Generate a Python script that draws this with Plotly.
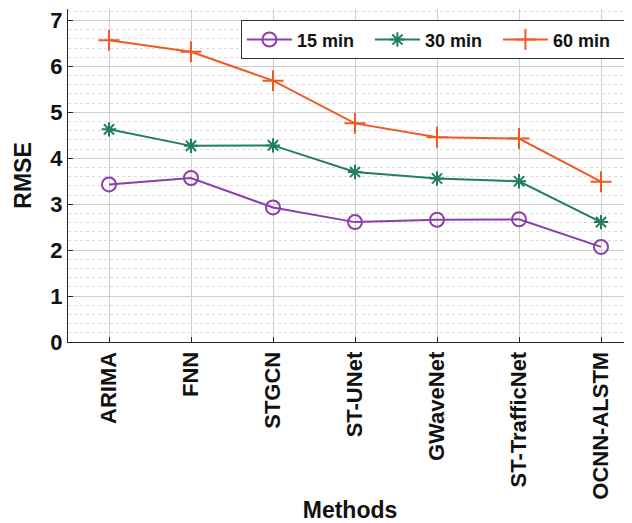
import plotly.graph_objects as go

methods = ["ARIMA", "FNN", "STGCN", "ST-UNet", "GWaveNet", "ST-TrafficNet", "OCNN-ALSTM"]
rmse_15 = [3.43, 3.57, 2.93, 2.61, 2.66, 2.67, 2.07]
rmse_30 = [4.63, 4.27, 4.28, 3.70, 3.56, 3.50, 2.61]
rmse_60 = [6.57, 6.32, 5.69, 4.76, 4.46, 4.43, 3.49]
series_names = ["15 min", "30 min", "60 min"]
y_ticks = [0, 1, 2, 3, 4, 5, 6, 7]

FONT = "Liberation Sans"
TXT = "#262626"

styles = [
    dict(color="#8B3FA8", symbol="circle-open", size=14),
    dict(color="#21805A", symbol="asterisk-open", size=12),
    dict(color="#EE5A24", symbol="cross-thin-open", size=15),
]

fig = go.Figure()
for name, vals, st in zip(series_names, [rmse_15, rmse_30, rmse_60], styles):
    fig.add_trace(go.Scatter(
        x=methods, y=vals, name=name, mode="lines+markers",
        line=dict(color=st["color"], width=2),
        marker=dict(symbol=st["symbol"], size=st["size"], color=st["color"],
                    line=dict(color=st["color"], width=2)),
    ))

# page body has an 8px margin, so the figure is sized/offset to compensate
fig.update_layout(
    width=624, height=515,
    margin=dict(l=60, r=0, t=1, b=181),
    paper_bgcolor="white", plot_bgcolor="white",
    font=dict(family=FONT, color=TXT),
    showlegend=True,
    legend=dict(
        orientation="h", x=0.991, xanchor="right", y=0.966, yanchor="top",
        bgcolor="white", bordercolor="#333333", borderwidth=1,
        font=dict(family=FONT, size=18, color="#111111", weight="bold"),
        itemwidth=45, entrywidth=68, tracegroupgap=0,
    ),
    xaxis=dict(
        type="category", range=[-0.5, 6.378],
        tickangle=-90, tickfont=dict(family=FONT, size=22, color="#111111", weight="bold"),
        showgrid=True, gridcolor="#cfcfcf", gridwidth=1,
        showline=True, linecolor=TXT, linewidth=1, mirror=False,
        ticks="inside", ticklen=5, tickcolor=TXT,
        title=dict(text="Methods", font=dict(family=FONT, size=23, color="#111111", weight="bold"),
                   standoff=8),
        zeroline=False,
    ),
    yaxis=dict(
        range=[0, 7.25], tickvals=y_ticks,
        tickfont=dict(family=FONT, size=22, color="#111111", weight="bold"),
        showgrid=True, gridcolor="#cfcfcf", gridwidth=1,
        minor=dict(dtick=0.2, showgrid=True, gridcolor="#dcdcdc", griddash="dot", gridwidth=1),
        showline=True, linecolor=TXT, linewidth=1, mirror=False,
        ticks="inside", ticklen=5, tickcolor=TXT,
        title=dict(text="RMSE", font=dict(family=FONT, size=23, color="#111111", weight="bold"),
                   standoff=12),
        zeroline=False,
    ),
)

fig.write_html("out.html")
